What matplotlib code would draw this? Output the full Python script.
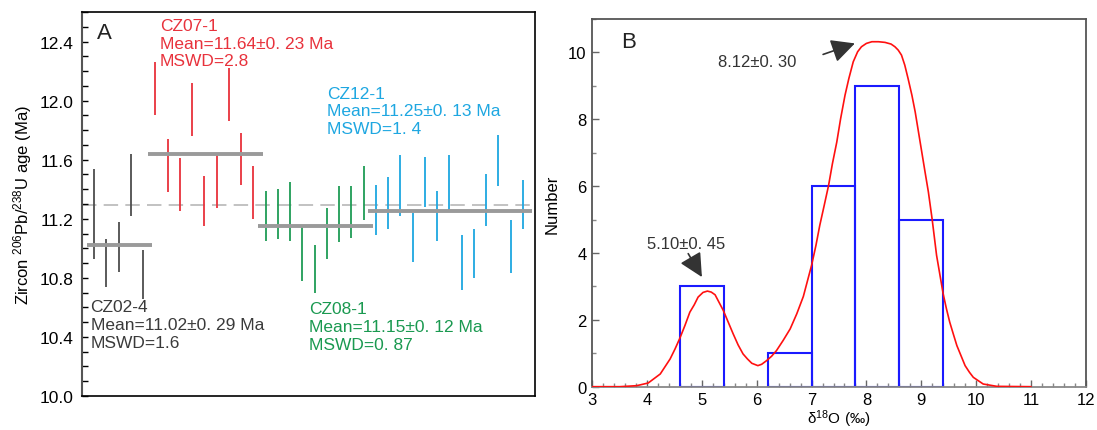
import numpy as np
import matplotlib.pyplot as plt
from matplotlib.ticker import MultipleLocator

plt.rcParams['font.family'] = ['Liberation Sans', 'DejaVu Sans']
plt.rcParams['mathtext.fontset'] = 'custom'
plt.rcParams['mathtext.rm'] = 'Liberation Sans'
plt.rcParams['mathtext.it'] = 'Liberation Sans:italic'

# ---- panel A: zircon U-Pb spot ages (top / bottom of each error bar, Ma)
SAMPLES = ["CZ02-4", "CZ07-1", "CZ08-1", "CZ12-1"]
MEANS = [11.02, 11.64, 11.15, 11.25]
MEAN_ERR = ["0. 29", "0. 23", "0. 12", "0. 13"]
MSWD = ["1.6", "2.8", "0. 87", "1. 4"]
WEIGHTED_ALL = 11.29

CZ02_HI = [11.54, 11.06, 11.18, 11.64, 10.99]
CZ02_LO = [10.93, 10.74, 10.84, 11.22, 10.66]
CZ07_HI = [12.26, 11.74, 11.61, 12.12, 11.49, 11.63, 12.22, 11.78, 11.56]
CZ07_LO = [11.90, 11.38, 11.25, 11.76, 11.15, 11.27, 11.86, 11.43, 11.20]
CZ08_HI = [11.39, 11.40, 11.45, 11.15, 11.02, 11.27, 11.42, 11.42, 11.56]
CZ08_LO = [11.05, 11.06, 11.05, 10.78, 10.70, 10.93, 11.04, 11.07, 11.19]
CZ12_HI = [11.43, 11.48, 11.63, 11.24, 11.62, 11.39, 11.63, 11.09, 11.13,
           11.50, 11.77, 11.19, 11.46]
CZ12_LO = [11.09, 11.13, 11.22, 10.91, 11.28, 11.05, 11.26, 10.72, 10.80,
           11.15, 11.42, 10.83, 11.13]

# ---- panel B: d18O histogram and probability curve
BIN_EDGES = [4.6, 5.4, 6.2, 7.0, 7.8, 8.6, 9.4]
COUNTS = [3, 0, 1, 6, 9, 5]
CURVE_X = [3.0, 3.5, 3.81, 4.02, 4.24, 4.42, 4.51, 4.60, 4.69, 4.78, 4.86, 4.93,
           5.02, 5.10, 5.17, 5.24, 5.39, 5.48, 5.57, 5.66, 5.75, 5.83, 5.91,
           6.02, 6.09, 6.18, 6.27, 6.36, 6.48, 6.61, 6.73, 6.85, 7.00, 7.08,
           7.15, 7.23, 7.31, 7.38, 7.46, 7.53, 7.61, 7.68, 7.76, 7.84, 7.91,
           8.00, 8.10, 8.22, 8.34, 8.45, 8.52, 8.58, 8.64, 8.70, 8.76, 8.83,
           8.89, 8.95, 9.01, 9.07, 9.13, 9.20, 9.28, 9.40, 9.46, 9.52, 9.59,
           9.65, 9.73, 9.80, 9.88, 9.95, 10.13, 10.38, 11.0]
CURVE_Y = [0.0, 0.0, 0.03, 0.11, 0.38, 0.83, 1.13, 1.46, 1.83, 2.23, 2.45, 2.68,
           2.82, 2.86, 2.83, 2.75, 2.28, 1.93, 1.58, 1.25, 0.98, 0.83, 0.70,
           0.63, 0.67, 0.78, 0.91, 1.08, 1.38, 1.73, 2.18, 2.70, 3.63, 4.23,
           4.83, 5.42, 6.02, 6.67, 7.32, 8.02, 8.72, 9.22, 9.72, 10.02, 10.17,
           10.27, 10.32, 10.32, 10.30, 10.25, 10.17, 10.07, 9.92, 9.62, 9.22,
           8.72, 8.22, 7.62, 7.02, 6.42, 5.83, 5.00, 3.93, 2.78, 2.33, 1.93,
           1.55, 1.23, 0.91, 0.63, 0.43, 0.28, 0.08, 0.01, 0.0]
PEAK_LABELS = ["5.10±0. 45", "8.12±0. 30"]

hi_groups = [CZ02_HI, CZ07_HI, CZ08_HI, CZ12_HI]
lo_groups = [CZ02_LO, CZ07_LO, CZ08_LO, CZ12_LO]
colors = ["#4d4d4d", "#e8323c", "#1f9c55", "#1ea7e1"]
text_colors = ["#3a3a3a", "#e8323c", "#1a9950", "#1ea7e1"]
# label anchor (x, top y) in data coords
label_pos = [(0.7, 10.655), (6.36, 12.56), (18.55, 10.64), (20.05, 12.10)]

fig = plt.figure(figsize=(10.97, 4.31), dpi=100)
axA = fig.add_axes([0.0747, 0.0789, 0.4130, 0.8909])
axB = fig.add_axes([0.5399, 0.1005, 0.4498, 0.8531])

# ---------------- panel A
start = 1
for hi, lo, c, tc, name, m, e, w, (tx, ty) in zip(
        hi_groups, lo_groups, colors, text_colors, SAMPLES, MEANS, MEAN_ERR,
        MSWD, label_pos):
    x = np.arange(start, start + len(hi))
    axA.vlines(x, lo, hi, color=c, lw=1.3)
    axA.hlines(m, x[0] - 0.6, x[-1] + 0.75, color="#9a9a9a", lw=2.8, zorder=3)
    axA.text(tx, ty, f"{name}\nMean={m:.2f}±{e} Ma\nMSWD={w}", color=tc,
             fontsize=12.5, va="top", ha="left", linespacing=1.22)
    start += len(hi)

axA.axhline(WEIGHTED_ALL, color="#bdbdbd", lw=1.3, dashes=(8, 4), zorder=1)
axA.set_xlim(0, 37)
axA.set_ylim(10.0, 12.6)
axA.set_xticks([])
axA.yaxis.set_major_locator(MultipleLocator(0.4))
axA.yaxis.set_minor_locator(MultipleLocator(0.1))
axA.yaxis.set_major_formatter(plt.FormatStrFormatter("%.1f"))
axA.tick_params(axis="y", which="both", direction="in", length=4, width=1,
                labelsize=12.5, pad=6)
for s in ["top", "right", "bottom"]:
    axA.spines[s].set_color("black")
    axA.spines[s].set_linewidth(1.2)
axA.spines["left"].set_color("#555555")
axA.spines["left"].set_linewidth(1.5)
axA.set_ylabel("Zircon $^{206}$Pb/$^{238}$U age (Ma)", fontsize=12, labelpad=4)
axA.text(1.25, 12.46, "A", fontsize=16, va="center", ha="left", color="#222222")

# ---------------- panel B
edges = np.array(BIN_EDGES)
counts = np.array(COUNTS)
keep = counts > 0
axB.bar(edges[:-1][keep], counts[keep], width=np.diff(edges)[keep], align="edge",
        fill=False, edgecolor="#1a1aff", lw=1.5, zorder=2)
axB.plot(CURVE_X, CURVE_Y, color="#ff1010", lw=1.2, zorder=3)

axB.set_xlim(3, 12)
axB.set_ylim(0, 11)
axB.xaxis.set_major_locator(MultipleLocator(1))
axB.xaxis.set_minor_locator(MultipleLocator(0.2))
axB.yaxis.set_major_locator(MultipleLocator(2))
axB.yaxis.set_minor_locator(MultipleLocator(1))
axB.tick_params(which="major", direction="in", length=5, width=1, labelsize=12,
                pad=4, color="#666666")
axB.tick_params(which="minor", direction="in", length=3, width=1, color="#888888")
for s in ["top", "right", "left"]:
    axB.spines[s].set_color("#555555")
    axB.spines[s].set_linewidth(1.3)
axB.spines["bottom"].set_color("#888888")
axB.spines["bottom"].set_linewidth(1.3)
axB.set_ylabel("Number", fontsize=12, labelpad=6)
axB.set_xlabel("δ$^{18}$O (‰)", fontsize=11, labelpad=0)
axB.text(3.53, 10.33, "B", fontsize=16, va="center", ha="left", color="#222222")

arrow = dict(arrowstyle="-|>,head_length=0.9,head_width=0.45", color="#333333",
             lw=1.2, mutation_scale=16, shrinkA=0, shrinkB=0)
axB.text(3.99, 4.28, PEAK_LABELS[0], fontsize=12, va="center", ha="left",
         color="#333333")
axB.annotate("", xy=(5.0, 3.28), xytext=(4.75, 3.98), arrowprops=arrow)
axB.text(5.29, 9.73, PEAK_LABELS[1], fontsize=12, va="center", ha="left",
         color="#333333")
axB.annotate("", xy=(7.79, 10.27), xytext=(7.21, 9.94), arrowprops=arrow)

fig.savefig("out.png", dpi=100)
